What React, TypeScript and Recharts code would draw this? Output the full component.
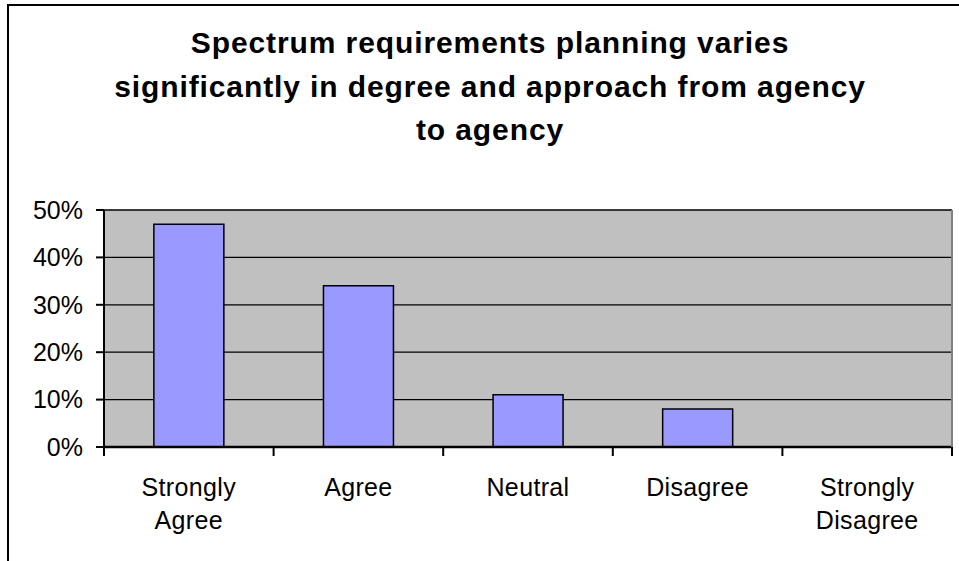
import { BarChart, Bar, XAxis, YAxis, CartesianGrid } from "recharts"

const categories = ["Strongly Agree", "Agree", "Neutral", "Disagree", "Strongly Disagree"]
const shares = [0.47, 0.34, 0.11, 0.08, 0]
const yTicks = [0, 0.1, 0.2, 0.3, 0.4, 0.5]
const titleLines = [
  "Spectrum requirements planning varies",
  "significantly in degree and approach from agency",
  "to agency",
]

const data = categories.map((cat, i) => ({ cat, share: shares[i] }))

const FONT = "'Liberation Sans', Arial, sans-serif"

// category labels split in two lines, plus tick marks on the band edges
function CatTick(props: any) {
  const { x, y, payload, index } = props
  const half = payload.offset || 84.8
  const words = String(payload.value).split(" ")
  const isLast = index === categories.length - 1
  return (
    <g>
      <line x1={x - half} y1={y} x2={x - half} y2={y + 9} stroke="#000" strokeWidth={2} />
      {isLast && <line x1={x + half} y1={y} x2={x + half} y2={y + 9} stroke="#000" strokeWidth={2} />}
      {words.map((w, i) => (
        <text key={i} x={x} y={y + 49 + i * 33} textAnchor="middle" fontSize={25} letterSpacing={0.35} fontFamily={FONT} fill="#000">
          {w}
        </text>
      ))}
    </g>
  )
}

export default function App() {
  return (
    <div style={{ position: "absolute", left: 0, top: 0, width: 959, height: 561, background: "#fff" }}>
      <div
        style={{
          position: "absolute",
          left: 7,
          top: 4,
          width: 952,
          height: 557,
          borderLeft: "2px solid #000",
          borderTop: "2px solid #000",
          boxSizing: "border-box",
        }}
      />
      <svg width={959} height={180} style={{ position: "absolute", left: 0, top: 0 }}>
        {titleLines.map((t, i) => (
          <text key={i} x={490} y={53 + i * 43.5} textAnchor="middle" fontSize={30} letterSpacing={0.9} fontWeight="bold" fontFamily={FONT} fill="#000">
            {t}
          </text>
        ))}
      </svg>
      <div style={{ position: "absolute", left: 0, top: 0 }}>
        <BarChart width={959} height={561} data={data} margin={{ top: 210, right: 0, bottom: 14, left: 0 }} barCategoryGap="29.4%">
          <CartesianGrid vertical={false} stroke="#000" strokeWidth={1.3} fill="#C0C0C0" />
          <XAxis
            dataKey="cat"
            height={100}
            tick={<CatTick />}
            tickLine={false}
            tickSize={0}
            tickMargin={0}
            interval={0}
            axisLine={{ stroke: "#000", strokeWidth: 2.5 }}
          />
          <XAxis
            xAxisId="top"
            dataKey="cat"
            orientation="top"
            height={0}
            tick={false}
            tickLine={false}
            axisLine={{ stroke: "#808080", strokeWidth: 2 }}
          />
          <YAxis
            width={104}
            domain={[0, 0.5]}
            ticks={yTicks}
            tickFormatter={(v: number) => `${Math.round(v * 100)}%`}
            tick={{ fontSize: 25, fontFamily: FONT, fill: "#000" }}
            tickSize={8}
            tickMargin={13}
            tickLine={{ stroke: "#000", strokeWidth: 2 }}
            axisLine={{ stroke: "#000", strokeWidth: 2 }}
          />
          <YAxis
            yAxisId="right"
            orientation="right"
            width={7}
            domain={[0, 0.5]}
            tick={false}
            tickLine={false}
            axisLine={{ stroke: "#808080", strokeWidth: 2 }}
          />
          <Bar dataKey="share" fill="#9999FF" stroke="#000" strokeWidth={1.5} isAnimationActive={false} />
        </BarChart>
      </div>
    </div>
  )
}
